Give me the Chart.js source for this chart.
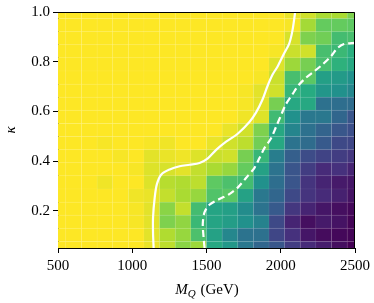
<!DOCTYPE html>
<html>
<head>
<meta charset="utf-8">
<script src="https://cdn.jsdelivr.net/npm/chart.js@4"></script>
<style>
  body { margin: 0; background: #fff; }
  #wrap { width: 374px; height: 303px; }
</style>
</head>
<body>
<div id="wrap"><canvas id="myChart"></canvas></div>
<script>
// grid centres
var massGeV = [500, 605.3, 710.5, 815.8, 921.1, 1026.3, 1131.6, 1236.8, 1342.1, 1447.4,
               1552.6, 1657.9, 1763.2, 1868.4, 1973.7, 2078.9, 2184.2, 2289.5, 2394.7, 2500];
var kappa = [1.0, 0.947, 0.894, 0.842, 0.789, 0.736, 0.683, 0.631, 0.578, 0.525,
             0.472, 0.419, 0.367, 0.314, 0.261, 0.208, 0.156, 0.103, 0.05];

// cell values (0 = dark purple, 1 = yellow), one row per kappa, top row first
var cells = [
  [1,1,1,1,1,1,1,1,1,1,1,1,1,1,1,0.97,0.93,0.87,0.87,0.8],
  [1,1,1,1,1,1,1,1,1,1,1,1,1,1,1,0.99,0.86,0.76,0.76,0.75],
  [1,1,1,1,1,1,1,1,1,1,1,1,1,1,1,0.94,0.8,0.78,0.69,0.7],
  [1,1,1,1,1,1,1,1,1,1,1,1,1,1,0.99,0.92,0.93,0.7,0.67,0.63],
  [1,1,1,1,1,1,1,1,1,1,1,1,1,1,0.95,0.85,0.79,0.7,0.64,0.6],
  [1,1,1,1,1,1,1,1,1,1,1,1,1,0.99,0.92,0.7,0.74,0.56,0.54,0.5],
  [1,1,1,1,1,1,1,1,1,1,1,1,0.99,0.96,0.93,0.66,0.61,0.52,0.5,0.46],
  [1,1,1,1,1,1,1,1,1,1,1,1,0.99,0.96,0.79,0.6,0.6,0.37,0.36,0.35],
  [1,1,1,1,1,1,1,1,1,1,1,1,0.98,0.95,0.68,0.5,0.4,0.4,0.33,0.26],
  [1,1,1,1,1,1,1,1,1,1,1,0.97,0.93,0.8,0.6,0.45,0.37,0.32,0.27,0.24],
  [1,1,1,0.99,1,1,0.99,0.98,1,1,0.97,0.93,0.9,0.78,0.6,0.38,0.35,0.28,0.22,0.21],
  [1,1,1,1,0.99,1,0.96,0.97,0.98,0.95,0.92,0.93,0.79,0.66,0.42,0.3,0.23,0.2,0.18,0.16],
  [1,1,1,1,1,0.99,0.95,0.94,0.96,0.91,0.87,0.84,0.76,0.57,0.38,0.26,0.18,0.12,0.14,0.1],
  [1,1,1,0.98,1,1,0.95,0.89,0.88,0.9,0.75,0.71,0.69,0.5,0.36,0.26,0.15,0.1,0.07,0.06],
  [1,1,1,1,1,0.98,0.97,0.91,0.87,0.84,0.72,0.74,0.57,0.4,0.33,0.22,0.15,0.12,0.09,0.05],
  [1,1,1,1,1,0.99,0.96,0.82,0.91,0.69,0.58,0.56,0.48,0.38,0.28,0.16,0.1,0.06,0.04,0.02],
  [1,1,1,1,1,0.99,0.96,0.8,0.83,0.67,0.58,0.55,0.5,0.44,0.22,0.1,0.04,0.07,0.05,0.01],
  [1,1,1,1,1,1,0.96,0.88,0.84,0.71,0.57,0.46,0.38,0.37,0.21,0.14,0.06,0.03,0.02,0.01],
  [1,1,1,1,1,1,0.97,0.9,0.82,0.85,0.6,0.53,0.4,0.33,0.27,0.18,0.12,0.08,0.04,0.0]
];

// contours
var solidM = [1144, 1140, 1140, 1151, 1166, 1196, 1252, 1319, 1386, 1453, 1509, 1565, 1632,
              1710, 1789, 1834, 1878, 1911, 1945, 1979, 2023, 2057, 2079, 2097];
var solidK = [0.05, 0.109, 0.173, 0.252, 0.307, 0.346, 0.366, 0.379, 0.385, 0.392, 0.411, 0.445, 0.478,
              0.51, 0.557, 0.596, 0.649, 0.702, 0.748, 0.781, 0.834, 0.873, 0.926, 1.0];
var dashM = [1487, 1480, 1475, 1487, 1520, 1587, 1654, 1710, 1766, 1822, 1856, 1889, 1934,
             1968, 2001, 2035, 2079, 2124, 2169, 2225, 2280, 2337, 2381, 2426, 2500];
var dashK = [0.05, 0.095, 0.148, 0.194, 0.224, 0.247, 0.267, 0.293, 0.332, 0.372, 0.411, 0.451, 0.491,
             0.537, 0.583, 0.629, 0.669, 0.708, 0.735, 0.761, 0.788, 0.821, 0.854, 0.871, 0.876];

var xTicks = [500, 1000, 1500, 2000, 2500];
var yTicks = [0.2, 0.4, 0.6, 0.8, 1.0];

var viridis = ['#440154', '#472d7b', '#3b528b', '#2c728e', '#21918c', '#28ae80', '#5ec962', '#addc30', '#fde725'];

function hexRgb(h) {
  return [parseInt(h.substr(1, 2), 16), parseInt(h.substr(3, 2), 16), parseInt(h.substr(5, 2), 16)];
}
function colorFor(v) {
  var t = Math.max(0, Math.min(1, v)) * (viridis.length - 1);
  var i = Math.min(Math.floor(t), viridis.length - 2);
  var f = t - i;
  var a = hexRgb(viridis[i]), b = hexRgb(viridis[i + 1]);
  return 'rgb(' + Math.round(a[0] + (b[0] - a[0]) * f) + ',' +
    Math.round(a[1] + (b[1] - a[1]) * f) + ',' + Math.round(a[2] + (b[2] - a[2]) * f) + ')';
}
function edges(c, i) {
  var lo = i === 0 ? c[0] : (c[i - 1] + c[i]) / 2;
  var hi = i === c.length - 1 ? c[i] : (c[i] + c[i + 1]) / 2;
  return [lo, hi];
}

var heatmap = {
  id: 'heatmap',
  beforeDatasetsDraw: function(chart) {
    var ctx = chart.ctx, xs = chart.scales.x, ys = chart.scales.y;
    ctx.save();
    for (var r = 0; r < kappa.length; r++) {
      var ke = edges(kappa, r);
      var yA = ys.getPixelForValue(ke[0]), yB = ys.getPixelForValue(ke[1]);
      for (var c = 0; c < massGeV.length; c++) {
        var me = edges(massGeV, c);
        var xA = xs.getPixelForValue(me[0]), xB = xs.getPixelForValue(me[1]);
        ctx.fillStyle = colorFor(cells[r][c]);
        ctx.fillRect(xA, Math.min(yA, yB), xB - xA, Math.abs(yB - yA));
        ctx.strokeStyle = 'rgba(255,255,255,0.045)';
        ctx.lineWidth = 1;
        ctx.strokeRect(xA, Math.min(yA, yB), xB - xA, Math.abs(yB - yA));
      }
    }
    ctx.restore();
  },
  afterDraw: function(chart) {
    var ctx = chart.ctx, a = chart.chartArea;
    ctx.save();
    // top and right spines
    ctx.strokeStyle = '#000';
    ctx.lineWidth = 1;
    ctx.beginPath();
    ctx.moveTo(a.left, a.top + 0.5);
    ctx.lineTo(a.right - 0.5, a.top + 0.5);
    ctx.lineTo(a.right - 0.5, a.bottom);
    ctx.stroke();
    // x axis title with subscript
    var big = 'italic 15px "Liberation Serif"', small = 'italic 11px "Liberation Serif"', reg = '15px "Liberation Serif"';
    ctx.fillStyle = '#000';
    ctx.textBaseline = 'alphabetic';
    ctx.font = big; var w1 = ctx.measureText('M').width;
    ctx.font = small; var w2 = ctx.measureText('Q').width;
    ctx.font = reg; var w3 = ctx.measureText(' (GeV)').width;
    var x0 = (a.left + a.right) / 2 - (w1 + w2 + w3) / 2, yb = 294;
    ctx.font = big; ctx.fillText('M', x0, yb);
    ctx.font = small; ctx.fillText('Q', x0 + w1, yb + 3);
    ctx.font = reg; ctx.fillText(' (GeV)', x0 + w1 + w2 + 1, yb);
    ctx.restore();
  }
};

function pts(xs, ys) {
  return xs.map(function(v, i) { return {x: v, y: ys[i]}; });
}

var ctx = document.getElementById('myChart').getContext('2d');
var myChart = new Chart(ctx, {
  type: 'scatter',
  data: {
    datasets: [{
        data: pts(solidM, solidK),
        showLine: true,
        borderColor: '#ffffff',
        borderWidth: 2.2,
        pointRadius: 0,
        tension: 0.3
      }, {
        data: pts(dashM, dashK),
        showLine: true,
        borderColor: '#ffffff',
        borderWidth: 2.2,
        borderDash: [7, 4],
        pointRadius: 0,
        tension: 0.3
      }
    ]
  },
  options: {
    responsive: true,
    maintainAspectRatio: false,
    animation: false,
    layout: { padding: { top: 8, right: 18, left: 0, bottom: 0 } },
    plugins: {
      legend: { display: false },
      tooltip: { enabled: false }
    },
    scales: {
      x: {
        type: 'linear',
        min: 500,
        max: 2500,
        afterBuildTicks: function(s) { s.ticks = xTicks.map(function(v) { return {value: v}; }); },
        afterFit: function(s) { s.height = 55; },
        grid: { drawOnChartArea: false, drawTicks: true, tickLength: 5, color: '#000' },
        border: { display: true, color: '#000', width: 1 },
        ticks: {
          color: '#000',
          padding: 4,
          maxRotation: 0,
          font: { family: '"Liberation Serif"', size: 15 },
          callback: function(v) { return String(v); }
        }
      },
      y: {
        type: 'linear',
        min: 0.05,
        max: 1.0,
        afterBuildTicks: function(s) { s.ticks = yTicks.map(function(v) { return {value: v}; }); },
        afterFit: function(s) { s.width = 58; },
        grid: { drawOnChartArea: false, drawTicks: true, tickLength: 5, color: '#000' },
        border: { display: true, color: '#000', width: 1 },
        title: {
          display: true,
          text: 'κ',
          color: '#000',
          padding: { top: 2, bottom: 0 },
          font: { family: '"Liberation Serif"', size: 15, style: 'italic' }
        },
        ticks: {
          color: '#000',
          padding: 3,
          font: { family: '"Liberation Serif"', size: 15 },
          callback: function(v) { return v.toFixed(1); }
        }
      }
    }
  },
  plugins: [heatmap]
});
</script>
</body>
</html>
